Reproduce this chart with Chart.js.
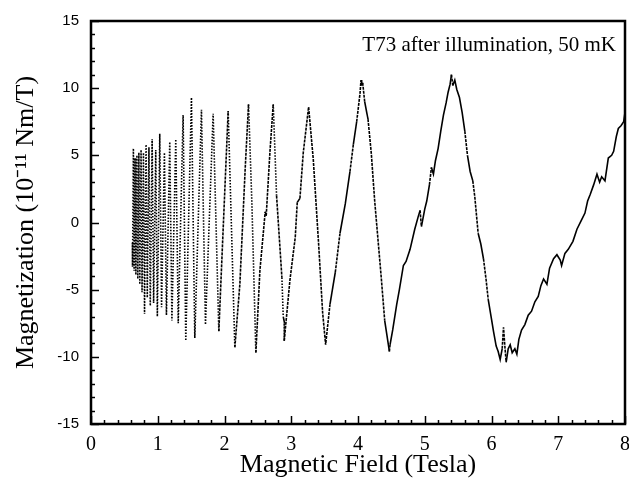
<!DOCTYPE html>
<html><head><meta charset="utf-8">
<script src="https://cdn.jsdelivr.net/npm/chart.js@4"></script>
<style>html,body{margin:0;padding:0;background:#fff;overflow:hidden}</style>
</head><body>
<canvas id="c" width="629" height="487"></canvas>
<script>
// Magnetic field values (Tesla)
const fieldTesla = [
  0.620, 0.622, 0.635, 0.646, 0.660, 0.672, 0.688, 0.701, 0.717, 0.731,
  0.750, 0.765, 0.786, 0.802, 0.825, 0.843, 0.868, 0.888, 0.916, 0.938,
  0.970, 0.994, 1.030, 1.057, 1.100, 1.130, 1.180, 1.212, 1.270, 1.307,
  1.380, 1.420, 1.505, 1.555, 1.655, 1.715, 1.830, 1.915, 2.055, 2.155,
  2.230, 2.310, 2.360, 2.410, 2.470,
  2.530, 2.610, 2.625, 2.680, 2.730,
  2.780, 2.860, 2.880, 2.900, 2.895,
  2.980, 3.060, 3.090, 3.130, 3.180, 3.260,
  3.330, 3.410, 3.470, 3.515,
  3.580, 3.660, 3.730, 3.810, 3.880, 3.930, 3.980, 4.030, 4.045, 4.055, 4.070,
  4.100, 4.150, 4.200, 4.250, 4.300, 4.350, 4.400, 4.440, 4.470, 4.480,
  4.520, 4.580, 4.620, 4.680, 4.720, 4.780, 4.850, 4.900, 4.930, 4.950,
  5.000, 5.030, 5.070, 5.100, 5.130, 5.160, 5.200, 5.240, 5.280, 5.320,
  5.350, 5.380, 5.400, 5.420, 5.450, 5.480,
  5.520, 5.560, 5.600, 5.640, 5.680, 5.720, 5.750, 5.800, 5.840, 5.880,
  5.920, 5.950, 6.000, 6.030, 6.070, 6.100, 6.130, 6.160, 6.180, 6.200,
  6.220, 6.250, 6.280, 6.310, 6.350, 6.380, 6.410, 6.450, 6.500, 6.550,
  6.600, 6.650, 6.700, 6.740, 6.780, 6.830, 6.870, 6.930, 6.980, 7.030,
  7.050, 7.100, 7.150, 7.220, 7.280, 7.340, 7.400, 7.440, 7.480, 7.530,
  7.580, 7.620, 7.650, 7.700, 7.750, 7.800, 7.830, 7.870, 7.900, 7.940,
  7.980, 8.000
];
// Magnetization values (10^-11 Nm/T)
const magnetization = [
  -1.5, -3.3, 5.5, -3.6, 4.8, -3.9, 5.0, -4.2, 5.2, -4.6,
  5.4, -5.2, 5.2, -6.8, 5.8, -5.6, 5.6, -6.2, 6.2, -6.0,
  5.4, -7.0, 6.6, -6.3, 5.2, -6.9, 6.0, -7.3, 6.2, -7.5,
  8.0, -8.8, 9.3, -8.6, 8.4, -7.6, 8.1, -8.1, 8.3, -9.3,
  -4.6, 4.0, 8.8, 1.5, -9.7,
  -3.6, 0.8, 0.5, 5.2, 8.8,
  2.0, -4.1, -7.0, -7.5, -8.8,
  -4.3, -1.1, 1.5, 1.8, 5.2, 8.6,
  4.7, -1.6, -6.7, -9.1,
  -6.1, -3.7, -0.8, 1.4, 3.8, 5.8, 7.5, 9.6, 10.6, 10.2, 10.4,
  9.0, 7.7, 5.1, 1.6, -1.3, -4.2, -7.3, -8.6, -9.6, -9.1,
  -8.0, -6.1, -5.0, -3.2, -2.9, -2.0, -0.5, 0.4, 0.9, -0.3,
  1.0, 1.6, 2.8, 4.1, 3.6, 4.6, 5.5, 6.8, 8.0, 8.9,
  9.7, 10.3, 11.0, 10.2, 10.6, 9.9,
  9.3, 8.2, 6.8, 5.0, 3.8, 3.1, 1.9, -0.8, -1.6, -2.7,
  -4.3, -5.7, -7.2, -8.1, -9.2, -9.6, -10.2, -9.4, -7.8, -9.2,
  -10.4, -9.4, -9.1, -9.7, -9.4, -9.8, -8.7, -8.0, -7.6, -6.9,
  -6.6, -5.9, -5.5, -4.7, -4.2, -4.6, -3.4, -2.7, -2.4, -2.8,
  -3.2, -2.3, -2.0, -1.4, -0.5, 0.1, 0.7, 1.6, 2.1, 2.8,
  3.6, 3.0, 3.4, 3.1, 4.8, 5.0, 5.3, 6.4, 7.0, 7.2,
  7.5, 8.2
];
const xTickValues = [0, 1, 2, 3, 4, 5, 6, 7, 8];
const xTickLabels = ['0', '1', '2', '3', '4', '5', '6', '7', '8'];
const yTickValues = [-15, -10, -5, 0, 5, 10, 15];
const yTickLabels = ['-15', '-10', '-5', '0', '5', '10', '15'];
const xAxisTitle = 'Magnetic Field (Tesla)';
const yAxisTitle = 'Magnetization (10\u207B\u00B9\u00B9 Nm/T)';
const annotationText = 'T73 after illumination, 50 mK';

const points = fieldTesla.map((b, i) => ({ x: b, y: magnetization[i] }));

const framePlugin = {
  id: 'frame',
  afterDraw(chart) {
    const ctx = chart.ctx;
    const a = chart.chartArea;
    const xs = chart.scales.x, ys = chart.scales.y;
    ctx.save();
    ctx.strokeStyle = '#000';
    ctx.lineWidth = 1.5;
    // inward ticks on bottom axis (minor every 0.2)
    for (let k = 0; k <= 40; k++) {
      const v = k / 5;
      const px = Math.round(xs.getPixelForValue(v)) + 0.5;
      const len = (k % 5 === 0) ? 8 : 4;
      ctx.beginPath(); ctx.moveTo(px, a.bottom); ctx.lineTo(px, a.bottom - len); ctx.stroke();
    }
    // inward ticks on left axis (minor every 1)
    for (let v = -15; v <= 15; v++) {
      const py = Math.round(ys.getPixelForValue(v)) + 0.5;
      const len = (v % 5 === 0) ? 8 : 4;
      ctx.beginPath(); ctx.moveTo(a.left, py); ctx.lineTo(a.left + len, py); ctx.stroke();
    }
    ctx.lineWidth = 2.5;
    ctx.strokeRect(a.left, a.top, a.right - a.left, a.bottom - a.top);
    // annotation
    ctx.fillStyle = '#000';
    ctx.font = '21px "Liberation Serif", "Times New Roman", serif';
    ctx.textAlign = 'right';
    ctx.textBaseline = 'alphabetic';
    ctx.fillText(annotationText, a.right - 9, a.top + 30);
    ctx.restore();
  }
};

new Chart(document.getElementById('c'), {
  type: 'line',
  data: {
    datasets: [{
      data: points,
      borderColor: '#000',
      borderWidth: 1.6,
      pointRadius: 0,
      tension: 0,
      fill: false,
      segment: {
        borderDash: ctx => {
          const dx = Math.abs(ctx.p1.x - ctx.p0.x), dy = Math.abs(ctx.p1.y - ctx.p0.y);
          if (dy > 25 * dx) return [1.5, 1.5];
          if (dy > 8 * dx) return [3, 1];
          return undefined;
        }
      }
    }]
  },
  options: {
    responsive: false,
    animation: false,
    layout: { padding: { left: 0, right: 4, top: 12, bottom: 0 } },
    plugins: { legend: { display: false }, tooltip: { enabled: false } },
    scales: {
      x: {
        type: 'linear', min: 0, max: 8,
        afterBuildTicks: s => { s.ticks = xTickValues.map(v => ({ value: v })); },
        ticks: {
          color: '#000', padding: 9, maxRotation: 0, autoSkip: false,
          font: { family: '"Liberation Serif", "Times New Roman", serif', size: 20 },
          callback: v => xTickLabels[xTickValues.indexOf(v)]
        },
        grid: { display: false, drawTicks: false },
        border: { display: false },
        title: {
          display: true, text: xAxisTitle, color: '#000',
          font: { family: '"Liberation Serif", "Times New Roman", serif', size: 26 },
          padding: { top: 0, bottom: 6 }
        },
        afterFit: s => { s.height = 63; s.paddingLeft = 0; s.paddingRight = 0; }
      },
      y: {
        type: 'linear', min: -15, max: 15,
        afterBuildTicks: s => { s.ticks = yTickValues.map(v => ({ value: v })); },
        ticks: {
          color: '#000', padding: 12,
          font: { family: '"Liberation Sans", Arial, sans-serif', size: 15 },
          callback: v => yTickLabels[yTickValues.indexOf(v)]
        },
        grid: { display: false, drawTicks: false },
        border: { display: false },
        title: {
          display: true, text: yAxisTitle, color: '#000',
          font: { family: '"Liberation Serif", "Times New Roman", serif', size: 26 },
          padding: { top: 11, bottom: 0 }
        },
        afterFit: s => { s.width = 91; }
      }
    }
  },
  plugins: [framePlugin]
});
</script>
</body></html>
